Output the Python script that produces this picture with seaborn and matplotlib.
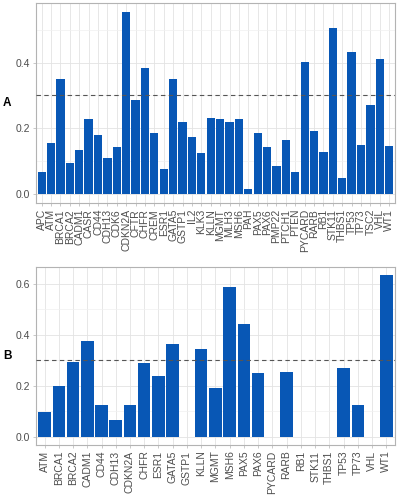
import matplotlib
matplotlib.use("Agg")
import matplotlib.pyplot as plt
import seaborn as sns
import pandas as pd
from matplotlib.ticker import MultipleLocator

# panel A data
genes_a = ["APC", "ATM", "BRCA1", "BRCA2", "CADM1", "CASR", "CD44", "CDH13", "CDK6",
           "CDKN2A", "CFTR", "CHFR", "CREM", "ESR1", "GATA5", "GSTP1", "IL2", "KLK3",
           "KLLN", "MGMT", "MLH3", "MSH6", "PAH", "PAX5", "PAX6", "PMP22", "PTCH1",
           "PTEN", "PYCARD", "RARB", "RB1", "STK11", "THBS1", "TP53", "TP73", "TSC2",
           "VHL", "WT1"]
vals_a = [0.069, 0.157, 0.351, 0.096, 0.134, 0.230, 0.179, 0.111, 0.145,
          0.553, 0.285, 0.382, 0.185, 0.076, 0.351, 0.220, 0.173, 0.125,
          0.232, 0.230, 0.218, 0.230, 0.017, 0.186, 0.143, 0.086, 0.164,
          0.067, 0.401, 0.192, 0.127, 0.506, 0.048, 0.431, 0.149, 0.270,
          0.410, 0.147]

# panel B data
genes_b = ["ATM", "BRCA1", "BRCA2", "CADM1", "CD44", "CDH13", "CDKN2A", "CHFR", "ESR1",
           "GATA5", "GSTP1", "KLLN", "MGMT", "MSH6", "PAX5", "PAX6", "PYCARD", "RARB",
           "RB1", "STK11", "THBS1", "TP53", "TP73", "VHL", "WT1"]
vals_b = [0.099, 0.201, 0.292, 0.375, 0.125, 0.066, 0.125, 0.290, 0.239,
          0.364, 0.0, 0.345, 0.192, 0.586, 0.442, 0.249, 0.0, 0.253,
          0.0, 0.0, 0.0, 0.269, 0.126, 0.0, 0.634]

threshold = 0.3
bar_color = "#0857B5"

sns.set_style("whitegrid")
plt.rcParams["font.family"] = ["Liberation Sans", "DejaVu Sans"]

fig = plt.figure(figsize=(3.98, 4.96), dpi=100)
ax_a = fig.add_axes([0.0905, 0.590, 0.9015, 0.404])
ax_b = fig.add_axes([0.0905, 0.1028, 0.9015, 0.3589])


def draw_panel(ax, genes, vals, label, ylim, yticks):
    df = pd.DataFrame({"gene": genes, "value": vals})
    sns.barplot(data=df, x="gene", y="value", ax=ax, color=bar_color,
                saturation=1, width=0.88, linewidth=0, order=genes)
    ax.axhline(threshold, color="#555555", linestyle=(0, (4, 3)), linewidth=0.8, zorder=3)
    ax.set_xlim(-0.6, len(genes) - 0.4)
    ax.set_ylim(*ylim)
    ax.set_yticks(yticks)
    ax.set_yticklabels([f"{t:.1f}" for t in yticks])
    ax.yaxis.set_minor_locator(MultipleLocator(0.1))
    ax.set_xlabel("")
    ax.set_ylabel(label, rotation=0, fontsize=8.5, fontweight="bold",
                  color="black", labelpad=10, va="center")
    ax.set_axisbelow(True)
    ax.grid(which="major", color="#e3e3e3", linewidth=0.6)
    ax.grid(which="minor", axis="y", color="#f0f0f0", linewidth=0.5)
    ax.tick_params(axis="both", which="major", length=2.5, width=0.5, color="#b3b3b3",
                   labelsize=7.5, labelcolor="#4d4d4d", pad=1.5, bottom=True, left=True)
    ax.tick_params(axis="y", which="minor", length=0)
    plt.setp(ax.get_xticklabels(), rotation=90, ha="center", va="top")
    for s in ax.spines.values():
        s.set_visible(True)
        s.set_color("#b3b3b3")
        s.set_linewidth(0.8)


draw_panel(ax_a, genes_a, vals_a, "A", (-0.0277, 0.581), [0.0, 0.2, 0.4])
draw_panel(ax_b, genes_b, vals_b, "B", (-0.0317, 0.666), [0.0, 0.2, 0.4, 0.6])

ax_a.yaxis.set_label_coords(-0.08, 0.5)
ax_b.yaxis.set_label_coords(-0.08, 0.5)

fig.savefig("out.png", dpi=100)
